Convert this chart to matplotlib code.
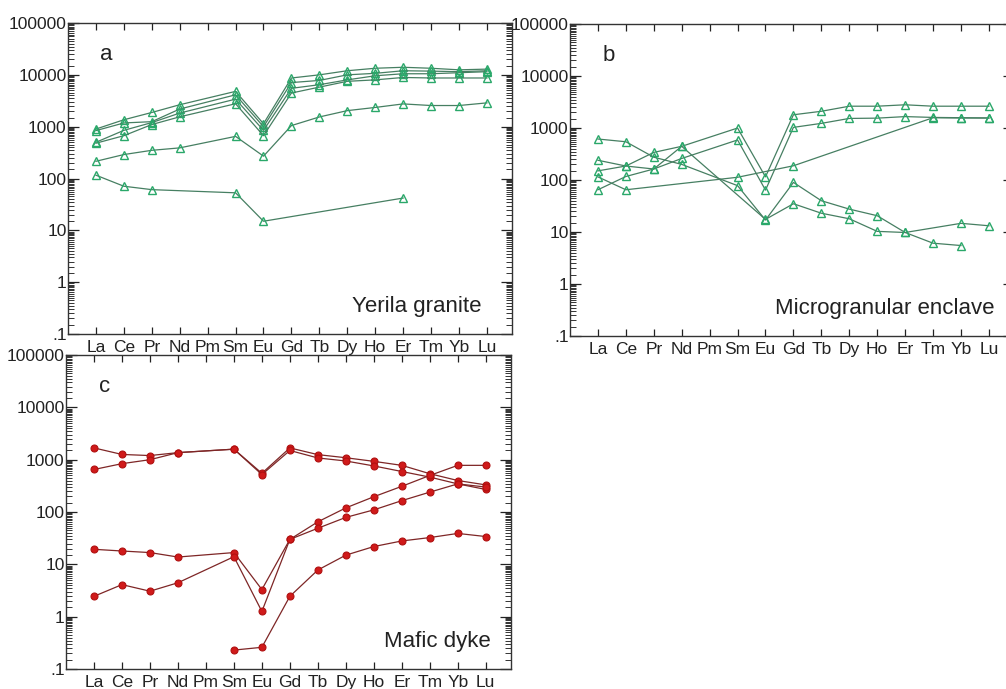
import numpy as np
import matplotlib.pyplot as plt
from matplotlib.ticker import FixedLocator, FixedFormatter, LogLocator, NullFormatter

plt.rcParams['font.family'] = ['Liberation Sans', 'DejaVu Sans']

# chondrite-normalised REE, Pm not analysed
ree = ['La', 'Ce', 'Pr', 'Nd', 'Pm', 'Sm', 'Eu', 'Gd', 'Tb', 'Dy', 'Ho', 'Er', 'Tm', 'Yb', 'Lu']
nan = np.nan

granite_1 = [900, 1360, 1880, 2650, nan, 4800, 1140, 8700, 10000, 12000, 13400, 14000, 13400, 12500, 12900]
granite_2 = [840, 1180, 1250, 2190, nan, 4120, 1000, 7100, 7800, 10000, 10700, 12000, 11800, 11500, 12000]
granite_3 = [500, 850, 1200, 1830, nan, 3400, 850, 5500, 6450, 8000, 9600, 10500, 10500, 11000, 11500]
granite_4 = [480, 670, 1100, 1550, nan, 2770, 670, 4460, 5800, 7500, 8000, 8900, 8700, 8700, 8700]
granite_5 = [215, 290, 350, 390, nan, 650, 270, 1050, 1540, 2040, 2350, 2750, 2560, 2560, 2880]
granite_6 = [116, 71, 61, nan, nan, 53, 15, nan, nan, nan, nan, 42, nan, nan, nan]

enclave_1 = [150, 186, 340, 445, nan, 1000, 115, 1800, 2100, 2630, 2630, 2800, 2630, 2630, 2630]
enclave_2 = [65, 117, 163, 260, nan, 590, 64, 1030, 1230, 1530, 1550, 1660, 1600, 1580, 1560]
enclave_3 = [115, 65, nan, nan, nan, 113, nan, 188, nan, nan, nan, nan, 1580, 1560, 1560]
enclave_4 = [615, 545, 275, 200, nan, 78, 17, 90, 40, 27.6, 20.6, 9.8, 6.1, 5.5, nan]
enclave_5 = [240, 186, 163, 445, nan, nan, 17.5, 35, 23, 18, 10.3, 9.8, nan, 14.7, 13.2]

dyke_1 = [1680, 1260, 1200, 1365, nan, 1590, 550, 1680, 1250, 1090, 930, 780, 540, 400, 330]
dyke_2 = [650, 840, 1000, 1365, nan, 1590, 520, 1500, 1080, 945, 760, 595, 465, 345, 270]
dyke_3 = [19.4, 18, 16.8, 13.8, nan, 16.8, 3.3, 30, 65, 120, 196, 310, 500, 780, 780]
dyke_4 = [2.45, 4.1, 3.07, 4.45, nan, 14, 1.26, 30, 49, 79, 110, 165, 240, 345, 300]
dyke_5 = [nan, nan, nan, nan, nan, 0.23, 0.26, 2.45, 7.8, 15, 21.9, 28, 32.5, 39, 34]

y_ticks = [0.1, 1, 10, 100, 1000, 10000, 100000]
y_labels = ['.1', '1', '10', '100', '1000', '10000', '100000']

x = np.arange(1, len(ree) + 1)


def draw_series(ax, series, line_col, **mk):
    for s in series:
        s = np.array(s, dtype=float)
        ok = ~np.isnan(s)
        ax.plot(x[ok], s[ok], color=line_col, lw=0.9, **mk)


def style_axes(ax, letter, name, name_x=0.955, right_minor=True):
    ax.set_yscale('log')
    ax.set_ylim(0.1, 100000)
    ax.set_xlim(0, 15.9)
    ax.xaxis.set_major_locator(FixedLocator(x))
    ax.xaxis.set_major_formatter(FixedFormatter(ree))
    ax.yaxis.set_major_locator(FixedLocator(y_ticks))
    ax.yaxis.set_major_formatter(FixedFormatter(y_labels))
    ax.yaxis.set_minor_locator(LogLocator(base=10, subs=np.arange(1.5, 10, 0.5), numticks=20))
    ax.yaxis.set_minor_formatter(NullFormatter())
    ax.tick_params(axis='x', which='major', direction='in', length=5, width=0.9,
                   top=True, bottom=True, labelsize=12.5, pad=4, colors='#222222')
    ax.tick_params(axis='y', which='major', direction='in', length=8, width=0.9,
                   left=True, right=True, labelsize=12.5, pad=1, colors='#222222')
    ax.tick_params(axis='y', which='minor', direction='in', length=4, width=0.7,
                   left=True, right=right_minor, colors='#333333')
    for sp in ax.spines.values():
        sp.set_linewidth(1.0)
        sp.set_color('#333333')
    ax.text(0.087, 0.9, letter, transform=ax.transAxes, fontsize=16, color='#222222',
            ha='center', va='center')
    ax.text(name_x, 0.087, name, transform=ax.transAxes, fontsize=16, color='#222222',
            ha='right', va='center')


fig = plt.figure(figsize=(10.06, 6.89), dpi=100)
ax_a = fig.add_axes([0.0676, 0.5152, 0.4414, 0.4514])
ax_b = fig.add_axes([0.5666, 0.5123, 0.4414, 0.4528])
ax_c = fig.add_axes([0.0656, 0.0290, 0.4423, 0.4557])

green_line = '#467f62'
green_mk = dict(marker='^', ms=6, mfc='none', mec='#2aa86a', mew=1.0)
draw_series(ax_a, [granite_1, granite_2, granite_3, granite_4, granite_5, granite_6], green_line, **green_mk)
draw_series(ax_b, [enclave_1, enclave_2, enclave_3, enclave_4, enclave_5], green_line, **green_mk)

red_mk = dict(marker='o', ms=5, mfc='#d01a1a', mec='#b01010', mew=0.8)
draw_series(ax_c, [dyke_1, dyke_2, dyke_3, dyke_4, dyke_5], '#7e2626', **red_mk)

style_axes(ax_a, 'a', 'Yerila granite', name_x=0.932)
style_axes(ax_b, 'b', 'Microgranular enclave', right_minor=False)
style_axes(ax_c, 'c', 'Mafic dyke')

fig.savefig('out.png', dpi=100)
